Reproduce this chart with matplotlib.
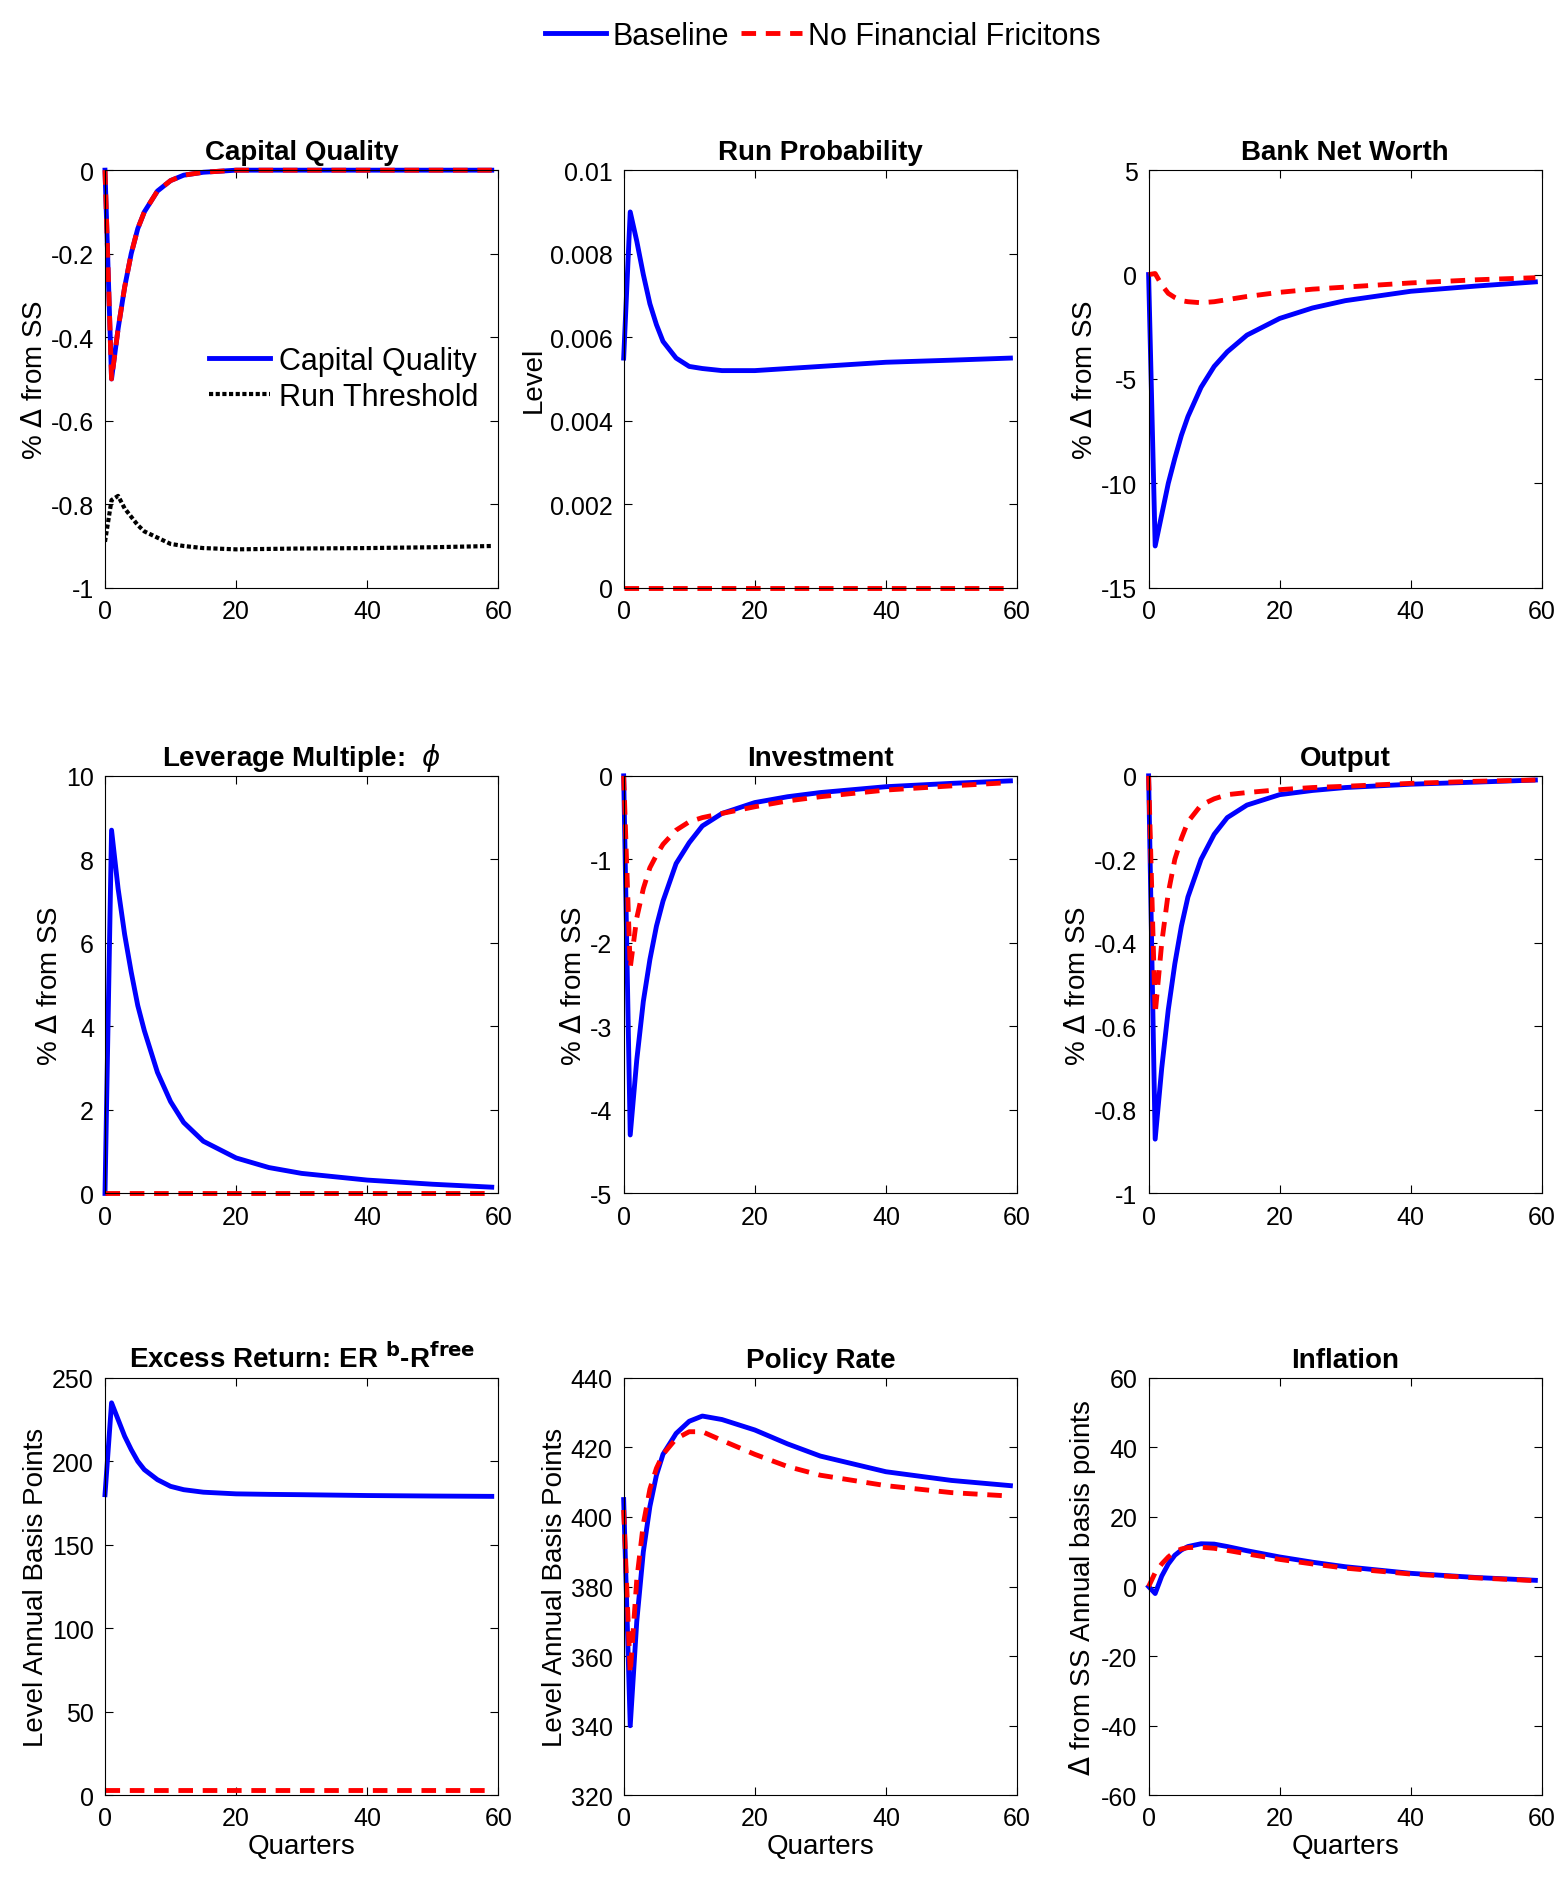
import matplotlib.pyplot as plt

# sample quarters
t = [0, 1, 2, 3, 4, 5, 6, 8, 10, 12, 15, 20, 25, 30, 40, 50, 59]

cq_base = [0, -0.5, -0.38, -0.28, -0.2, -0.14, -0.1, -0.05, -0.025, -0.012, -0.005, 0, 0, 0, 0, 0, 0]
cq_nff = cq_base
run_thr = [-0.89, -0.79, -0.78, -0.81, -0.83, -0.85, -0.865, -0.88, -0.895, -0.9, -0.905, -0.908, -0.907, -0.906, -0.905, -0.903, -0.9]

rp_base = [0.0055, 0.009, 0.0083, 0.0075, 0.0068, 0.0063, 0.0059, 0.0055, 0.0053, 0.00525, 0.0052, 0.0052, 0.00525, 0.0053, 0.0054, 0.00545, 0.0055]
rp_nff = [0] * 17

nw_base = [0, -13, -11.5, -10, -8.8, -7.7, -6.8, -5.4, -4.4, -3.7, -2.9, -2.1, -1.6, -1.25, -0.8, -0.55, -0.35]
nw_nff = [0, 0.05, -0.5, -0.9, -1.1, -1.25, -1.3, -1.35, -1.3, -1.2, -1.05, -0.85, -0.7, -0.6, -0.4, -0.25, -0.15]

lev_base = [0, 8.7, 7.3, 6.2, 5.3, 4.5, 3.9, 2.9, 2.2, 1.7, 1.25, 0.85, 0.62, 0.48, 0.32, 0.22, 0.15]
lev_nff = [0] * 17

inv_base = [0, -4.3, -3.4, -2.7, -2.2, -1.8, -1.5, -1.05, -0.8, -0.6, -0.45, -0.32, -0.25, -0.2, -0.13, -0.09, -0.06]
inv_nff = [0, -2.3, -1.7, -1.35, -1.1, -0.95, -0.82, -0.65, -0.55, -0.5, -0.45, -0.37, -0.3, -0.25, -0.17, -0.12, -0.08]

out_base = [0, -0.87, -0.7, -0.56, -0.45, -0.36, -0.29, -0.2, -0.14, -0.1, -0.07, -0.045, -0.035, -0.028, -0.02, -0.015, -0.01]
out_nff = [0, -0.57, -0.4, -0.28, -0.2, -0.15, -0.11, -0.07, -0.055, -0.045, -0.04, -0.033, -0.028, -0.025, -0.018, -0.013, -0.01]

er_base = [180, 235, 225, 215, 207, 200, 195, 189, 185, 183, 181.5, 180.5, 180.2, 180, 179.5, 179.2, 179]
er_nff = [3] * 17

pr_base = [405, 340, 370, 390, 403, 412, 418, 424, 427.5, 429, 428, 425, 421, 417.5, 413, 410.5, 409]
pr_nff = [402, 355, 382, 398, 408, 414, 418, 422.5, 424.5, 424.5, 422, 418, 414.5, 412, 409, 407, 406]

inf_base = [0, -2, 3, 6.5, 9, 10.5, 11.5, 12.3, 12.2, 11.5, 10.3, 8.5, 7, 5.7, 3.8, 2.6, 1.8]
inf_nff = [0, 4, 6.5, 8.5, 10, 10.8, 11.2, 11.3, 11, 10.4, 9.4, 7.8, 6.5, 5.3, 3.6, 2.5, 1.7]

panels = [
    ("Capital Quality", cq_base, cq_nff, (-1, 0), [-1, -0.8, -0.6, -0.4, -0.2, 0], "% $\\Delta$ from SS"),
    ("Run Probability", rp_base, rp_nff, (0, 0.01), [0, 0.002, 0.004, 0.006, 0.008, 0.01], "Level"),
    ("Bank Net Worth", nw_base, nw_nff, (-15, 5), [-15, -10, -5, 0, 5], "% $\\Delta$ from SS"),
    ("Leverage Multiple:  $\\phi$", lev_base, lev_nff, (0, 10), [0, 2, 4, 6, 8, 10], "% $\\Delta$ from SS"),
    ("Investment", inv_base, inv_nff, (-5, 0), [-5, -4, -3, -2, -1, 0], "% $\\Delta$ from SS"),
    ("Output", out_base, out_nff, (-1, 0), [-1, -0.8, -0.6, -0.4, -0.2, 0], "% $\\Delta$ from SS"),
    ("Excess Return: ER $^{\\mathbf{b}}$-R$^{\\mathbf{free}}$", er_base, er_nff, (0, 250), [0, 50, 100, 150, 200, 250], "Level Annual Basis Points"),
    ("Policy Rate", pr_base, pr_nff, (320, 440), [320, 340, 360, 380, 400, 420, 440], "Level Annual Basis Points"),
    ("Inflation", inf_base, inf_nff, (-60, 60), [-60, -40, -20, 0, 20, 40, 60], "$\\Delta$ from SS Annual basis points"),
]

plt.rcParams['font.family'] = ['Liberation Sans', 'DejaVu Sans']
fig = plt.figure(figsize=(15.67, 18.81), dpi=100)

lefts = [0.067, 0.398, 0.733]
bottoms = [0.687, 0.365, 0.045]
w, h = 0.251, 0.222

for i, (title, yb, yn, ylim, yt, ylab) in enumerate(panels):
    r, c = divmod(i, 3)
    ax = fig.add_axes([lefts[c], bottoms[r], w, h])
    lb, = ax.plot(t, yb, color='blue', lw=3.5, clip_on=False)
    ln, = ax.plot(t, yn, color='red', lw=3.5, ls=(0, (3, 2)), clip_on=False)
    if i == 0:
        lr, = ax.plot(t, run_thr, color='black', lw=3, ls=(0, (1, 0.6)))
        ax.legend([lb, lr], ["Capital Quality", "Run Threshold"], loc='center right',
                  bbox_to_anchor=(1.02, 0.5), frameon=False, fontsize=22,
                  handlelength=2.0, handletextpad=0.3, labelspacing=0.2)
    ax.set_xlim(0, 60)
    ax.set_ylim(*ylim)
    ax.set_xticks([0, 20, 40, 60])
    ax.set_yticks(yt)
    ax.set_yticklabels([f"{v:g}" for v in yt])
    ax.tick_params(direction='in', top=True, right=True, labelsize=18, length=6, pad=8)
    ax.set_title(title, fontsize=20, fontweight='bold', pad=8)
    ax.set_ylabel(ylab, fontsize=20, labelpad=2)
    if r == 2:
        ax.set_xlabel("Quarters", fontsize=20, labelpad=2)

fig.legend([lb, ln], ["Baseline", "No Financial Fricitons"], loc='upper center',
           bbox_to_anchor=(0.525, 1.003), ncol=2, frameon=False, fontsize=22,
           handlelength=2.0, handletextpad=0.2, columnspacing=0.4)

fig.savefig("out.png", dpi=100)
